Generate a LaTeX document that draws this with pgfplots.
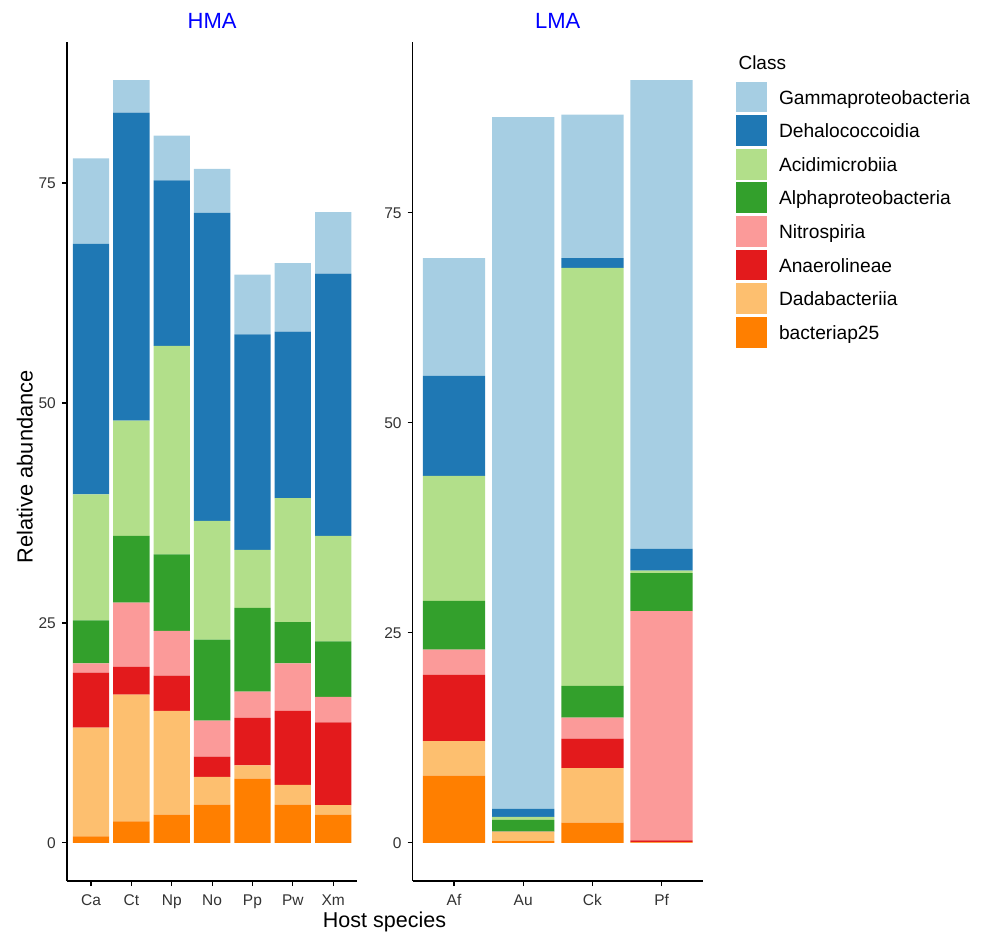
\documentclass[border=0pt]{standalone}
\usepackage{pgfplots}
\pgfplotsset{compat=1.18}
\usepackage{pgfplotstable}
\usepackage{fontspec}
\setmainfont{Liberation Sans}

% ColorBrewer "Paired" colours, one per bacterial class
\definecolor{cGamma}{HTML}{A6CEE3}
\definecolor{cDehalo}{HTML}{1F78B4}
\definecolor{cAcidi}{HTML}{B2DF8A}
\definecolor{cAlpha}{HTML}{33A02C}
\definecolor{cNitro}{HTML}{FB9A99}
\definecolor{cAnaero}{HTML}{E31A1C}
\definecolor{cDada}{HTML}{FDBF6F}
\definecolor{cBact}{HTML}{FF7F00}
\definecolor{ticktext}{HTML}{333333}
\definecolor{stripblue}{HTML}{0000FF}

% Relative abundance of each class per host species (stacked from bacteriap25 up)
\pgfplotstableread{
x host b25  dada  anaero nitro alpha acidi dehalo gamma
0 Ca   0.75 12.35 6.25   1.05  4.9   14.3  28.5   9.7
1 Ct   2.45 14.4  3.15   7.3   7.6   13.1  35.0   3.7
2 Np   3.2  11.8  4.0    5.1   8.7   23.7  18.8   5.1
3 No   4.35 3.15  2.3    4.1   9.2   13.5  35.0   5.0
4 Pp   7.3  1.5   5.4    3.0   9.5   6.6   24.5   6.8
5 Pw   4.35 2.25  8.4    5.4   4.7   14.1  18.9   7.8
6 Xm   3.2  1.1   9.4    2.9   6.3   12.0  29.8   7.0
}\hma

\pgfplotstableread{
x host b25  dada  anaero nitro alpha acidi dehalo gamma
0 Af   8.0  4.1   7.9    3.0   5.8   14.9  11.9   14.0
1 Au   0.2  1.1   0.0    0.05  1.4   0.35  0.95   82.35
2 Ck   2.4  6.5   3.5    2.5   3.8   49.75 1.15   17.1
3 Pf   0.05 0.05  0.2    27.3  4.5   0.3   2.6    55.8
}\lma

\pgfplotsset{
  panel/.style={
    scale only axis,
    width=290.6pt, height=839pt,
    anchor=south west,
    axis lines=left,
    axis line style={-, line width=1.5pt, black},
    ybar stacked, bar width=0.9,
    xmin=-0.6,
    xtick=data,
    ytick={0,25,50,75},
    tick align=outside,
    major tick length=5pt,
    tick style={line width=1.2pt, black},
    /pgf/number format/assume math mode=true,
    every tick label/.append style={font=\fontsize{15.5}{18}\selectfont, text=ticktext},
    every x tick label/.style={anchor=north, inner sep=0pt, yshift=-8.3pt},
    every y tick label/.style={anchor=east, inner sep=0pt, xshift=-5.8pt},
    every axis title/.style={at={(0.5,1)}, anchor=base, yshift=13pt,
      font=\fontsize{22}{26}\selectfont, text=stripblue},
  },
  classbar/.style={fill=#1, draw=none},
}

\begin{document}
\begin{tikzpicture}
\useasboundingbox (0,0) rectangle (984pt,931pt);

% HMA hosts
\begin{axis}[panel, at={(66.8pt,50pt)},
  xmax=6.6, ymin=-4.335, ymax=91.035,
  xticklabels={Ca,Ct,Np,No,Pp,Pw,Xm},
  title={HMA}]
  \addplot[classbar=cBact]   table[x=x, y=b25]    {\hma};
  \addplot[classbar=cDada]   table[x=x, y=dada]   {\hma};
  \addplot[classbar=cAnaero] table[x=x, y=anaero] {\hma};
  \addplot[classbar=cNitro]  table[x=x, y=nitro]  {\hma};
  \addplot[classbar=cAlpha]  table[x=x, y=alpha]  {\hma};
  \addplot[classbar=cAcidi]  table[x=x, y=acidi]  {\hma};
  \addplot[classbar=cDehalo] table[x=x, y=dehalo] {\hma};
  \addplot[classbar=cGamma]  table[x=x, y=gamma]  {\hma};
\end{axis}

% LMA hosts, with the class legend to the right
\begin{axis}[panel, at={(412.5pt,50pt)},
  xmax=3.6, ymin=-4.54, ymax=95.34,
  xticklabels={Af,Au,Ck,Pf},
  title={LMA},
  reverse legend,
  legend cell align=left,
  legend image code/.code={\fill[#1] (0pt,-15.35pt) rectangle (30.7pt,15.35pt);},
  legend style={at={(1.1132,0.9527)}, anchor=north west, draw=none, fill=none,
    inner sep=0pt, outer sep=0pt, row sep=2.9pt,
    font=\fontsize{19.2}{22}\selectfont,
    nodes={inner sep=0pt, text height=14pt, text depth=0pt},
    /tikz/every odd column/.append style={column sep=12.3pt}},
  ]
  \addplot[classbar=cBact]   table[x=x, y=b25]    {\lma}; \addlegendentry{bacteriap25}
  \addplot[classbar=cDada]   table[x=x, y=dada]   {\lma}; \addlegendentry{Dadabacteriia}
  \addplot[classbar=cAnaero] table[x=x, y=anaero] {\lma}; \addlegendentry{Anaerolineae}
  \addplot[classbar=cNitro]  table[x=x, y=nitro]  {\lma}; \addlegendentry{Nitrospiria}
  \addplot[classbar=cAlpha]  table[x=x, y=alpha]  {\lma}; \addlegendentry{Alphaproteobacteria}
  \addplot[classbar=cAcidi]  table[x=x, y=acidi]  {\lma}; \addlegendentry{Acidimicrobiia}
  \addplot[classbar=cDehalo] table[x=x, y=dehalo] {\lma}; \addlegendentry{Dehalococcoidia}
  \addplot[classbar=cGamma]  table[x=x, y=gamma]  {\lma}; \addlegendentry{Gammaproteobacteria}
\end{axis}

% shared axis titles and legend title
\node[anchor=base, rotate=90, font=\fontsize{21.8}{26}\selectfont] at (32.5pt,464.3pt) {Relative abundance};
\node[anchor=base, font=\fontsize{21.5}{26}\selectfont] at (384.5pt,3.7pt) {Host species};
\node[anchor=base west, font=\fontsize{19}{22}\selectfont] at (735pt,861.7pt) {Class};
\end{tikzpicture}
\end{document}
